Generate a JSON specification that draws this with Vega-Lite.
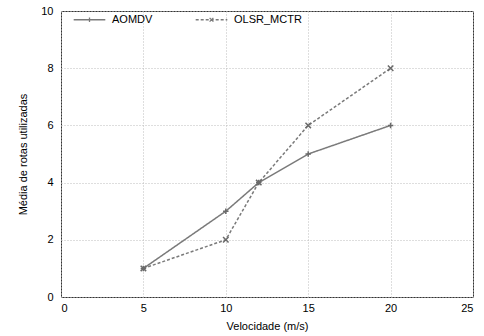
{
  "$schema": "https://vega.github.io/schema/vega-lite/v6.json",
  "width": 412,
  "height": 286,
  "autosize": {"type": "none"},
  "padding": {"left": 61, "top": 11, "right": 11, "bottom": 39},
  "data": {"values": [
    {"series": "AOMDV", "vel": 5, "rotas": 1},
    {"series": "AOMDV", "vel": 10, "rotas": 3},
    {"series": "AOMDV", "vel": 12, "rotas": 4},
    {"series": "AOMDV", "vel": 15, "rotas": 5},
    {"series": "AOMDV", "vel": 20, "rotas": 6},
    {"series": "OLSR_MCTR", "vel": 5, "rotas": 1},
    {"series": "OLSR_MCTR", "vel": 10, "rotas": 2},
    {"series": "OLSR_MCTR", "vel": 12, "rotas": 4},
    {"series": "OLSR_MCTR", "vel": 15, "rotas": 6},
    {"series": "OLSR_MCTR", "vel": 20, "rotas": 8}
  ]},
  "encoding": {
    "x": {"field": "vel", "type": "quantitative", "title": "Velocidade (m/s)",
      "scale": {"domain": [0, 25], "nice": false, "zero": false},
      "axis": {"values": [0, 5, 10, 15, 20, 25], "labelPadding": 5, "titlePadding": 7}},
    "y": {"field": "rotas", "type": "quantitative", "title": "Média de rotas utilizadas",
      "scale": {"domain": [0, 10], "nice": false},
      "axis": {"values": [0, 2, 4, 6, 8, 10], "labelPadding": 8, "titlePadding": 12}}
  },
  "layer": [
    {
      "mark": {"type": "line", "color": "#7a7a7a", "strokeWidth": 1.5},
      "encoding": {
        "strokeDash": {"field": "series", "type": "nominal",
          "scale": {"domain": ["AOMDV", "OLSR_MCTR"], "range": [[1, 0], [3, 2]]},
          "legend": null}
      }
    },
    {
      "mark": {"type": "point", "filled": false, "color": "#6a6a6a", "strokeWidth": 1.5, "size": 30, "opacity": 1},
      "encoding": {
        "shape": {"field": "series", "type": "nominal",
          "scale": {"domain": ["AOMDV", "OLSR_MCTR"], "range": ["M-1,0H1M0,-1V1", "M-1,-1L1,1M-1,1L1,-1"]},
          "legend": null}
      }
    },
    {
      "transform": [{"filter": "false"}],
      "mark": {"type": "point", "filled": false, "color": "#7a7a7a", "strokeWidth": 1.3, "opacity": 1},
      "encoding": {
        "shape": {"field": "series", "type": "nominal",
          "scale": {"domain": ["AOMDV", "OLSR_MCTR"], "range": [
            "M-1,0H1M0,-0.15V0.15",
            "M-1,0H-0.81M-0.684,0H-0.494M-0.368,0H-0.178M-0.052,0H0.138M0.264,0H0.454M0.58,0H0.77M0.896,0H1M-0.12,-0.12L0.12,0.12M-0.12,0.12L0.12,-0.12"]},
          "legend": {"orient": "none", "legendX": 12, "legendY": -8, "direction": "horizontal", "title": null,
            "symbolSize": 1000, "symbolStrokeWidth": 1.3, "symbolStrokeColor": "#7a7a7a",
            "labelFontSize": 11, "labelFont": "Liberation Sans", "labelColor": "#000",
            "labelOffset": 6, "columnPadding": 40}}
      }
    }
  ],
  "resolve": {"scale": {"shape": "independent"}},
  "config": {
    "view": {"stroke": "#333", "strokeWidth": 1},
    "font": "Liberation Sans",
    "axis": {
      "domain": false, "ticks": false, "grid": true,
      "gridColor": "#bdbdbd", "gridDash": [1, 2], "gridWidth": 1,
      "labelFont": "Liberation Sans", "labelFontSize": 11, "labelColor": "#000",
      "titleFont": "Liberation Sans", "titleFontSize": 11, "titleFontWeight": "normal", "titleColor": "#000"
    }
  }
}
